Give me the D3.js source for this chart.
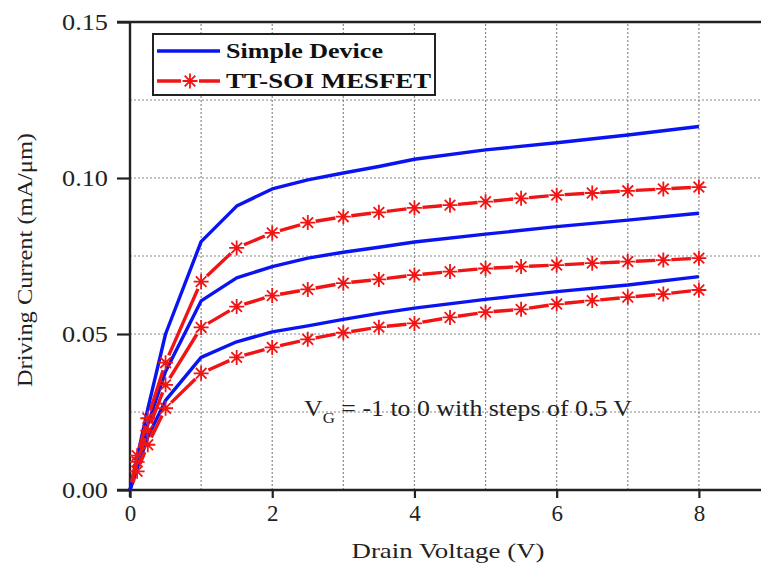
<!DOCTYPE html>
<html><head><meta charset="utf-8">
<script src="https://cdn.jsdelivr.net/npm/d3@7"></script>
<style>html,body{margin:0;padding:0;background:#fff;overflow:hidden}svg{display:block}</style>
</head><body>
<script>
// ---- data ----
const seriesNames = ["Simple Device", "TT-SOI MESFET"];
const blueX = [0, 0.25, 0.5, 1, 1.5, 2, 2.5, 3, 3.5, 4, 5, 6, 7, 8];
const blueTop = [0, 0.026, 0.050, 0.0796, 0.091, 0.0965, 0.0994, 0.1016, 0.1037, 0.106, 0.109, 0.1113, 0.1138, 0.1165];
const blueMid = [0, 0.021, 0.038, 0.0606, 0.068, 0.0716, 0.0743, 0.0762, 0.0778, 0.0795, 0.082, 0.0844, 0.0865, 0.0887];
const blueBot = [0, 0.017, 0.0287, 0.0425, 0.0475, 0.0507, 0.0526, 0.0547, 0.0566, 0.0583, 0.0611, 0.0636, 0.0657, 0.0684];
const redX = [0, 0.1, 0.25, 0.5, 1, 1.5, 2, 2.5, 3, 3.5, 4, 4.5, 5, 5.5, 6, 6.5, 7, 7.5, 8];
const redTop = [0, 0.011, 0.023, 0.0408, 0.0668, 0.0776, 0.0824, 0.0857, 0.0876, 0.089, 0.0904, 0.0913, 0.0924, 0.0935, 0.0945, 0.0952, 0.0959, 0.0965, 0.0971];
const redMid = [0, 0.009, 0.019, 0.0337, 0.0521, 0.0588, 0.0623, 0.0643, 0.0663, 0.0675, 0.0689, 0.07, 0.071, 0.0716, 0.0721, 0.0727, 0.0732, 0.0737, 0.0743];
const redBot = [0, 0.006, 0.0145, 0.0262, 0.0374, 0.0425, 0.0457, 0.0483, 0.0504, 0.0522, 0.0534, 0.0553, 0.057, 0.0579, 0.0596, 0.0607, 0.0618, 0.0628, 0.0641];
const xTicks = [0, 2, 4, 6, 8];
const yTicks = [0, 0.05, 0.10, 0.15];
const xGrid = [1, 2, 3, 4, 5, 6, 7, 8];
const yGrid = [0.025, 0.05, 0.075, 0.10, 0.125];
const xLabel = "Drain Voltage (V)";
const yLabel = "Driving Current (mA/\u03bcm)";

// ---- layout ----
const W = 761, H = 564;
const blue = "#0a14f0", red = "#f01414", ink = "#222";
const FF = '"Liberation Serif"';
const x = d3.scaleLinear().domain([0, 9]).range([130, 770]);
const y = d3.scaleLinear().domain([0, 0.15]).range([490, 22]);

const svg = d3.select("body").append("svg").attr("width", W).attr("height", H);

// grid
const grid = svg.append("g").attr("stroke", "#8a8a8a").attr("stroke-width", 1.2)
  .attr("stroke-dasharray", "2,2");
grid.selectAll(".gx").data(xGrid).join("line")
  .attr("x1", d => x(d)).attr("x2", d => x(d)).attr("y1", y(0)).attr("y2", y(0.15));
grid.selectAll(".gy").data(yGrid).join("line")
  .attr("x1", x(0)).attr("x2", W).attr("y1", d => y(d)).attr("y2", d => y(d));

// axes
const xAxis = d3.axisBottom(x).tickValues(xTicks).tickFormat(d3.format("d")).tickSize(8).tickPadding(7);
const yAxis = d3.axisLeft(y).tickValues(yTicks).tickFormat(d3.format(".2f")).tickSize(13).tickPadding(9);
const gx = svg.append("g").attr("transform", `translate(0,${y(0)})`).call(xAxis);
const gy = svg.append("g").attr("transform", `translate(${x(0)},0)`).call(yAxis);
[gx, gy].forEach(g => {
  g.select(".domain").remove();
  g.selectAll(".tick line").attr("stroke", ink).attr("stroke-width", 2.2);
  g.selectAll(".tick text").attr("fill", "#222").style("font-family", FF).style("font-size", "23px");
});
gy.selectAll(".tick text").attr("textLength", 46).attr("lengthAdjust", "spacingAndGlyphs");
// frame lines
svg.append("line").attr("x1", 117).attr("x2", W).attr("y1", y(0)).attr("y2", y(0)).attr("stroke", ink).attr("stroke-width", 2.4);
svg.append("line").attr("x1", 117).attr("x2", W).attr("y1", y(0.15)).attr("y2", y(0.15)).attr("stroke", ink).attr("stroke-width", 2.4);
svg.append("line").attr("x1", x(0)).attr("x2", x(0)).attr("y1", y(0.15)).attr("y2", y(0) + 7).attr("stroke", ink).attr("stroke-width", 2.4);

// blue curves
const line = d3.line().x(d => x(d[0])).y(d => y(d[1]));
[blueTop, blueMid, blueBot].forEach(s => {
  svg.append("path").datum(blueX.map((v, i) => [v, s[i]]))
    .attr("d", line).attr("fill", "none").attr("stroke", blue).attr("stroke-width", 3.4)
    .attr("stroke-linejoin", "round");
});

// red curves: broken segments + asterisk markers
function asterisk(g, cx, cy, r) {
  const a = r * Math.SQRT1_2;
  g.append("path").attr("d",
    `M${cx - r},${cy}L${cx + r},${cy}M${cx},${cy - r}L${cx},${cy + r}` +
    `M${cx - a},${cy - a}L${cx + a},${cy + a}M${cx - a},${cy + a}L${cx + a},${cy - a}`)
    .attr("stroke", red).attr("stroke-width", 1.8).attr("fill", "none");
}
const gap = 8;
[redTop, redMid, redBot].forEach(s => {
  const g = svg.append("g");
  const pts = redX.map((v, i) => [x(v), y(s[i])]);
  for (let i = 0; i < pts.length - 1; i++) {
    const [x1, y1] = pts[i], [x2, y2] = pts[i + 1];
    const L = Math.hypot(x2 - x1, y2 - y1);
    if (L <= 2 * gap + 2) continue;
    const ux = (x2 - x1) / L, uy = (y2 - y1) / L;
    g.append("line").attr("x1", x1 + ux * gap).attr("y1", y1 + uy * gap)
      .attr("x2", x2 - ux * gap).attr("y2", y2 - uy * gap)
      .attr("stroke", red).attr("stroke-width", 3.4).attr("stroke-linecap", "butt");
  }
  pts.forEach((p, i) => { if (i > 0) asterisk(g, p[0], p[1], 7.5); });
});

// legend
const lg = svg.append("g");
lg.append("rect").attr("x", 153).attr("y", 34).attr("width", 282).attr("height", 61)
  .attr("fill", "#fff").attr("stroke", ink).attr("stroke-width", 2);
lg.append("line").attr("x1", 157).attr("x2", 220).attr("y1", 51).attr("y2", 51)
  .attr("stroke", blue).attr("stroke-width", 3.5);
lg.append("line").attr("x1", 157).attr("x2", 181).attr("y1", 81).attr("y2", 81)
  .attr("stroke", red).attr("stroke-width", 3.5);
lg.append("line").attr("x1", 199).attr("x2", 220).attr("y1", 81).attr("y2", 81)
  .attr("stroke", red).attr("stroke-width", 3.5);
asterisk(lg, 190, 81, 7.5);
const legW = [157, 205];
lg.selectAll("text.leg").data(seriesNames).join("text")
  .attr("x", 226).attr("y", (d, i) => 58 + i * 30)
  .style("font-family", FF).style("font-weight", "bold").style("font-size", "22px").attr("fill", "#111")
  .attr("textLength", (d, i) => legW[i]).attr("lengthAdjust", "spacingAndGlyphs").text(d => d);

// annotation
const ann = svg.append("text").attr("x", 304).attr("y", 416)
  .style("font-family", FF).style("font-size", "23px").attr("fill", "#222")
  .attr("textLength", 328).attr("lengthAdjust", "spacingAndGlyphs");
ann.append("tspan").text("V");
ann.append("tspan").attr("dy", 7).style("font-size", "15px").text("G");
ann.append("tspan").attr("dy", -7).text(" = -1 to 0 with steps of 0.5 V");

// axis titles
svg.append("text").attr("x", 448).attr("y", 558).attr("text-anchor", "middle")
  .style("font-family", FF).style("font-size", "22px").attr("fill", "#222")
  .attr("textLength", 193).attr("lengthAdjust", "spacingAndGlyphs").text(xLabel);
svg.append("text").attr("transform", "translate(32,260) rotate(-90)").attr("text-anchor", "middle")
  .style("font-family", FF).style("font-size", "22px").attr("fill", "#222")
  .attr("textLength", 254).attr("lengthAdjust", "spacingAndGlyphs").text(yLabel);
</script>
</body></html>
